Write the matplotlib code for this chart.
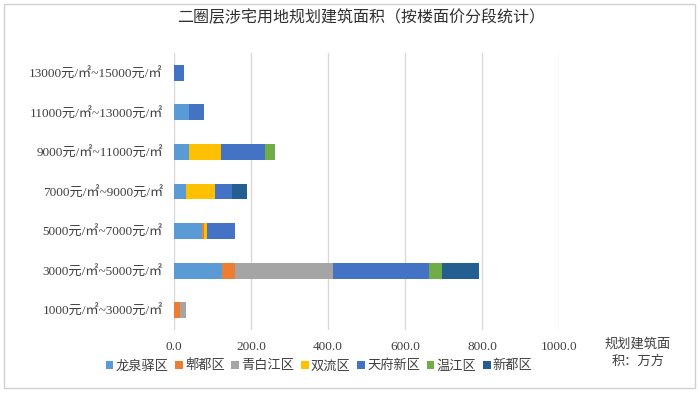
import matplotlib.pyplot as plt
from matplotlib.patches import Rectangle
import numpy as np

plt.rcParams['font.family'] = ['Liberation Serif', 'Noto Sans CJK SC', 'DejaVu Sans']

# price bands (bottom -> top)
bands = ["1000元/㎡~3000元/㎡", "3000元/㎡~5000元/㎡", "5000元/㎡~7000元/㎡",
         "7000元/㎡~9000元/㎡", "9000元/㎡~11000元/㎡", "11000元/㎡~13000元/㎡",
         "13000元/㎡~15000元/㎡"]
districts = ["龙泉驿区", "郫都区", "青白江区", "双流区", "天府新区", "温江区", "新都区"]

longquanyi = [0, 125, 74, 32, 39, 39, 0]
pidu = [16, 33, 4, 0, 0, 0, 0]
qingbaijiang = [15, 256, 0, 0, 0, 0, 0]
shuangliu = [0, 0, 8, 75, 82, 0, 0]
tianfu = [0, 248, 73, 44, 116, 38, 26]
wenjiang = [0, 33, 0, 0, 26, 0, 0]
xindu = [0, 97, 0, 39, 0, 0, 0]

series = [longquanyi, pidu, qingbaijiang, shuangliu, tianfu, wenjiang, xindu]
colors = ["#5B9BD5", "#ED7D31", "#A5A5A5", "#FFC000", "#4472C4", "#70AD47", "#255E91"]

fig = plt.figure(figsize=(7, 3.94), dpi=100)
ax = fig.add_axes([174 / 700, 1 - 330 / 394, (559 - 174) / 700, (330 - 53) / 394])

y = np.arange(len(bands))
left = np.zeros(len(bands))
for name, vals, c in zip(districts, series, colors):
    ax.barh(y, vals, left=left, height=0.4, color=c, label=name, zorder=3)
    left += np.array(vals)

ax.set_xlim(0, 1000)
ax.set_ylim(-0.5, len(bands) - 0.5)
ax.set_xticks(np.arange(0, 1001, 200))
ax.set_xticklabels([f"{v:.1f}" for v in np.arange(0, 1001, 200)], fontsize=9.5)
ax.set_yticks(y)
ax.set_yticklabels(bands, fontsize=9.5)
ax.grid(axis="x", color="#D9D9D9", linewidth=1, zorder=0)
for s in ax.spines.values():
    s.set_visible(False)
ax.tick_params(length=0, colors="#404040")
ax.tick_params(axis="x", pad=8)
ax.tick_params(axis="y", pad=8)

fig.text(361 / 700, 1 - 18 / 394, "二圈层涉宅用地规划建筑面积（按楼面价分段统计）",
         ha="center", va="center", fontsize=11.5, color="#303030")
fig.text(638 / 700, 1 - 353 / 394, "规划建筑面\n积：万方", ha="center", va="center",
         fontsize=9.5, color="#404040", linespacing=1.5)

fig.legend(loc="center", bbox_to_anchor=(319 / 700, 1 - 366 / 394), ncol=7,
           frameon=False, fontsize=9.5, handlelength=0.6, handleheight=0.6,
           handletextpad=0.15, columnspacing=0.5, labelcolor="#404040")

fig.patches.append(Rectangle((4 / 700, 6 / 394), 691 / 700, 384 / 394,
                             transform=fig.transFigure, fill=False,
                             edgecolor="#D0D0D0", linewidth=1))

fig.savefig("out.png", dpi=100)
